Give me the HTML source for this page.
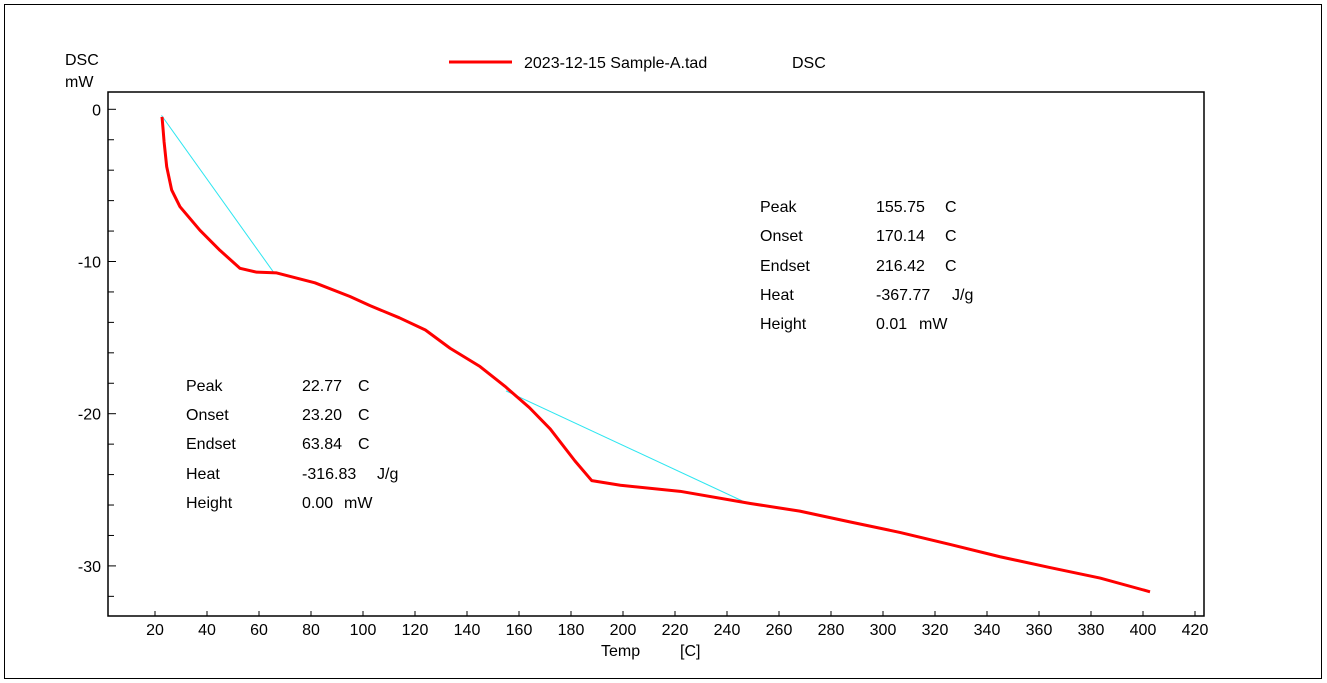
<!DOCTYPE html>
<html><head><meta charset="utf-8"><style>
body{margin:0;background:#fff;}
svg{display:block;font-family:"Liberation Sans",Arial,sans-serif;}
</style></head><body>
<svg id="chart" width="1327" height="683">
<rect x="4.5" y="4.5" width="1317" height="674" fill="none" stroke="#000"/>
<text x="65" y="65" font-size="16">DSC</text>
<text x="65" y="87" font-size="16">mW</text>
<g>
<line x1="449" y1="62" x2="512" y2="62" stroke="#f00" stroke-width="3"/>
<text x="524" y="68" font-size="16">2023-12-15 Sample-A.tad</text>
<text x="792" y="68" font-size="16">DSC</text>
</g>
<rect x="108" y="92" width="1096" height="524" fill="none" stroke="#000" stroke-width="1.5"/>
<g id="ticks"></g>
<g id="marks"></g>
<text x="601" y="656" font-size="16">Temp</text>
<text x="680" y="656" font-size="16">[C]</text>
<g font-size="16">
<text x="760" y="212">Peak</text><text x="876" y="212">155.75</text><text x="945" y="212">C</text>
<text x="760" y="241">Onset</text><text x="876" y="241">170.14</text><text x="945" y="241">C</text>
<text x="760" y="271">Endset</text><text x="876" y="271">216.42</text><text x="945" y="271">C</text>
<text x="760" y="300">Heat</text><text x="876" y="300">-367.77</text><text x="952" y="300">J/g</text>
<text x="760" y="329">Height</text><text x="876" y="329">0.01</text><text x="919" y="329">mW</text>
</g>
<g font-size="16">
<text x="186" y="391">Peak</text><text x="302" y="391">22.77</text><text x="358" y="391">C</text>
<text x="186" y="420">Onset</text><text x="302" y="420">23.20</text><text x="358" y="420">C</text>
<text x="186" y="449">Endset</text><text x="302" y="449">63.84</text><text x="358" y="449">C</text>
<text x="186" y="479">Heat</text><text x="302" y="479">-316.83</text><text x="377" y="479">J/g</text>
<text x="186" y="508">Height</text><text x="302" y="508">0.00</text><text x="344" y="508">mW</text>
</g>
</svg>
<script>
const temps=[22.7,23.1,23.5,24.5,26.4,29.6,37.3,45,52.7,59.1,66.8,81.5,95,102.7,114,124,133.5,145,154.6,164,172,181.5,188,199,222,249,268,287,306.5,326,345,364,383.5,402.7];
const dsc=[-0.5,-1.3,-2.15,-3.77,-5.3,-6.4,-7.95,-9.27,-10.45,-10.7,-10.75,-11.4,-12.3,-12.9,-13.7,-14.5,-15.7,-16.9,-18.2,-19.6,-21,-23.1,-24.4,-24.7,-25.1,-25.9,-26.4,-27.1,-27.8,-28.6,-29.4,-30.1,-30.8,-31.7];
const baseline1T=[22.5,66];const baseline1V=[-0.4,-10.8];
const baseline2T=[155,248];const baseline2V=[-18.5,-25.9];
const xTicks=[20,40,60,80,100,120,140,160,180,200,220,240,260,280,300,320,340,360,380,400,420];
const yTicks=[0,-10,-20,-30];
const ns="http://www.w3.org/2000/svg";
function X(t){return 103+t*2.6;}
function Y(v){return 109.3-v*15.22;}
const tg=document.getElementById('ticks'),mg=document.getElementById('marks');
function mk(tag,at,par){const e=document.createElementNS(ns,tag);for(const k in at)e.setAttribute(k,at[k]);par.appendChild(e);return e;}
xTicks.forEach(t=>{
 const l=mk('line',{x1:X(t),x2:X(t),y1:611,y2:616,stroke:'#000'},tg);
 
 
 const tx=mk('text',{x:X(t),y:635,'font-size':16,'text-anchor':'middle'},tg);tx.textContent=t;
 
 
});
for(let v=0;v>=-32;v-=2){
 const major=v%10===0;
 const l=mk('line',{x1:108,x2:major?116:114,y1:Y(v),y2:Y(v),stroke:'#000'},tg);
 
 
}
yTicks.forEach(v=>{
 const tx=mk('text',{x:101,y:Y(v)+6,'font-size':16,'text-anchor':'end'},tg);tx.textContent=v;
 
 
});
function pts(a,b){return a.map((t,i)=>X(t)+','+Y(b[i])).join(' ');}
const b1=mk('polyline',{points:pts(baseline1T,baseline1V),fill:'none',stroke:'#2ee6f0','stroke-width':1},mg);


const b2=mk('polyline',{points:pts(baseline2T,baseline2V),fill:'none',stroke:'#2ee6f0','stroke-width':1},mg);


const c=mk('polyline',{points:pts(temps,dsc),fill:'none',stroke:'#f00','stroke-width':3,'stroke-linejoin':'round'},mg);


</script>
</body></html>
